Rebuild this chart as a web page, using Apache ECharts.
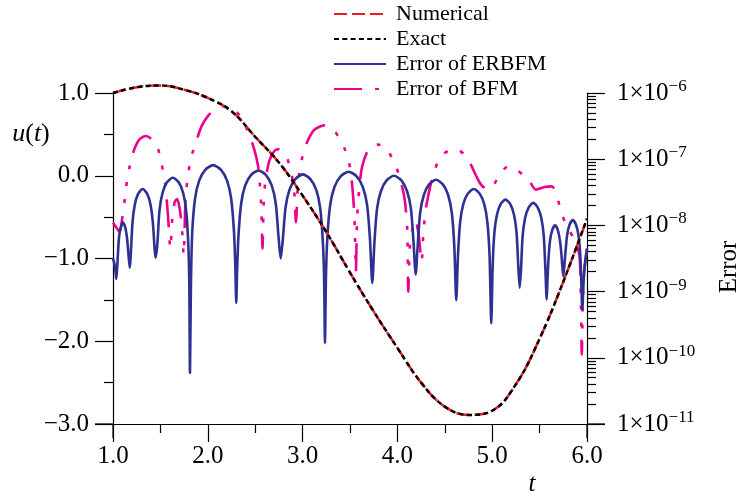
<!DOCTYPE html>
<html><head><meta charset="utf-8">
<script src="https://cdn.jsdelivr.net/npm/echarts@6/dist/echarts.min.js"></script>
<style>html,body{margin:0;padding:0;background:#fff}#c{width:739px;height:495px}</style>
</head><body><div id="c"></div>
<script>
// ---- data ----
const tU = [1.0,1.25,1.5,1.75,2.0,2.25,2.5,2.75,3.0,3.25,3.5,3.75,4.0,4.25,4.5,4.75,5.0,5.25,5.5,5.75,6.0];
const numericalU = [1.00,1.07,1.09,1.04,0.94,0.78,0.47,0.16,-0.24,-0.68,-1.17,-1.64,-2.08,-2.50,-2.79,-2.89,-2.84,-2.52,-1.97,-1.28,-0.52];
const exactU     = [1.00,1.07,1.09,1.04,0.94,0.78,0.47,0.16,-0.24,-0.68,-1.17,-1.64,-2.08,-2.50,-2.79,-2.89,-2.84,-2.52,-1.97,-1.28,-0.52];

const erbfmT = [1.000,1.020,1.035,1.051,1.063,1.082,1.105,1.129,1.148,1.161,1.176,1.206,1.231,1.266,1.313,1.360,1.395,1.420,1.450,1.468,1.490,1.522,1.569,1.631,1.693,1.740,1.772,1.794,1.805,1.812,1.822,1.836,1.866,1.910,1.973,2.056,2.139,2.202,2.246,2.276,2.290,2.300,2.309,2.323,2.352,2.394,2.455,2.535,2.614,2.675,2.717,2.746,2.769,2.792,2.820,2.862,2.923,3.003,3.082,3.143,3.185,3.213,3.227,3.236,3.246,3.261,3.291,3.336,3.401,3.486,3.570,3.635,3.680,3.710,3.735,3.758,3.785,3.827,3.886,3.964,4.042,4.101,4.143,4.170,4.193,4.214,4.240,4.279,4.334,4.407,4.480,4.535,4.574,4.600,4.621,4.639,4.662,4.695,4.743,4.806,4.868,4.916,4.949,4.972,4.990,5.005,5.023,5.050,5.089,5.140,5.191,5.230,5.257,5.275,5.290,5.304,5.321,5.347,5.384,5.433,5.481,5.518,5.544,5.561,5.575,5.584,5.594,5.610,5.633,5.663,5.692,5.715,5.731,5.750,5.772,5.790,5.816,5.850,5.884,5.910,5.928,5.940,5.950,5.970,6.000];
const erbfmErr = [3.2e-9,2.4e-9,1.55e-9,3.47e-9,6.46e-9,9.33e-9,1.10e-8,9.33e-9,6.46e-9,3.98e-9,2.29e-9,1.12e-8,2.09e-8,3.02e-8,3.55e-8,3.02e-8,2.09e-8,1.12e-8,3.24e-9,5.25e-9,1.66e-8,3.09e-8,4.47e-8,5.25e-8,4.47e-8,3.09e-8,1.66e-8,5.25e-9,1.26e-9,5.9e-11,1.26e-9,7.94e-9,2.57e-8,4.79e-8,6.92e-8,8.13e-8,6.92e-8,4.79e-8,2.57e-8,8.13e-9,2.51e-9,6.76e-10,2.0e-9,6.76e-9,2.14e-8,3.98e-8,5.75e-8,6.76e-8,5.75e-8,3.98e-8,2.14e-8,6.76e-9,3.16e-9,6.31e-9,1.86e-8,3.47e-8,5.01e-8,5.89e-8,5.01e-8,3.47e-8,1.86e-8,5.89e-9,1.58e-9,1.66e-10,1.58e-9,6.46e-9,2.04e-8,3.80e-8,5.50e-8,6.46e-8,5.50e-8,3.80e-8,2.04e-8,6.46e-9,1.35e-9,5.62e-9,1.78e-8,3.31e-8,4.79e-8,5.62e-8,4.79e-8,3.31e-8,1.78e-8,5.62e-9,1.82e-9,4.90e-9,1.55e-8,2.88e-8,4.17e-8,4.90e-8,4.17e-8,2.88e-8,1.55e-8,4.90e-9,7.41e-10,3.55e-9,1.12e-8,2.09e-8,3.02e-8,3.55e-8,3.02e-8,2.09e-8,1.12e-8,3.55e-9,3.31e-10,2.45e-9,7.76e-9,1.45e-8,2.09e-8,2.45e-8,2.09e-8,1.45e-8,7.76e-9,2.45e-9,1.15e-9,2.19e-9,6.92e-9,1.29e-8,1.86e-8,2.19e-8,1.86e-8,1.29e-8,6.92e-9,2.19e-9,7.59e-10,1.58e-9,3.16e-9,5.89e-9,8.51e-9,1.0e-8,8.51e-9,5.89e-9,3.55e-9,1.70e-9,3.80e-9,7.08e-9,1.02e-8,1.20e-8,1.02e-8,7.08e-9,3.80e-9,1.41e-9,5.37e-10,2.0e-9,4.47e-9];

const bfmT = [1.000,1.035,1.070,1.100,1.125,1.150,1.190,1.230,1.280,1.346,1.410,1.470,1.510,1.550,1.580,1.605,1.625,1.650,1.675,1.700,1.725,1.745,1.765,1.785,1.820,1.880,1.935,2.000,2.065,2.150,2.240,2.300,2.360,2.430,2.490,2.530,2.550,2.565,2.577,2.590,2.610,2.650,2.700,2.745,2.790,2.840,2.880,2.910,2.930,2.950,2.980,3.030,3.120,3.230,3.330,3.440,3.490,3.520,3.540,3.552,3.562,3.575,3.600,3.630,3.700,3.790,3.870,3.960,4.020,4.070,4.090,4.105,4.115,4.130,4.160,4.190,4.225,4.255,4.275,4.300,4.340,4.380,4.450,4.540,4.620,4.700,4.760,4.830,4.880,4.950,5.020,5.080,5.170,5.250,5.325,5.400,5.460,5.550,5.630,5.680,5.740,5.810,5.870,5.920,5.935,5.945,5.955,5.970,6.000];
const bfmErr = [1.10e-8,9.33e-9,7.94e-9,1.38e-8,2.51e-8,5.01e-8,9.55e-8,1.48e-7,2.0e-7,2.24e-7,2.0e-7,1.51e-7,8.91e-8,4.27e-8,1.41e-8,4.47e-9,1.26e-8,2.24e-8,2.51e-8,1.91e-8,1.0e-8,3.55e-9,2.51e-8,4.79e-8,1.0e-7,1.91e-7,3.16e-7,4.47e-7,5.50e-7,6.31e-7,6.03e-7,5.25e-7,4.07e-7,2.51e-7,1.41e-7,7.94e-8,3.98e-8,1.78e-8,4.47e-9,2.24e-8,5.01e-8,9.55e-8,1.32e-7,1.41e-7,1.32e-7,1.0e-7,6.31e-8,3.55e-8,1.12e-8,3.98e-8,8.32e-8,1.58e-7,2.75e-7,3.24e-7,2.75e-7,1.48e-7,8.91e-8,4.47e-8,1.95e-8,7.94e-9,2.0e-9,1.26e-8,3.98e-8,7.94e-8,1.45e-7,1.66e-7,1.55e-7,9.33e-8,5.62e-8,2.82e-8,1.66e-8,7.94e-9,1.0e-9,4.47e-9,8.91e-9,1.20e-8,7.08e-9,2.82e-9,7.94e-9,1.78e-8,3.55e-8,5.89e-8,1.07e-7,1.35e-7,1.41e-7,1.20e-7,9.12e-8,5.62e-8,4.17e-8,3.47e-8,4.17e-8,6.03e-8,7.76e-8,7.08e-8,5.75e-8,4.47e-8,3.47e-8,3.80e-8,3.89e-8,2.82e-8,1.41e-8,8.51e-9,6.03e-9,3.55e-9,7.94e-10,1.12e-10,6.31e-10,2.0e-9,4.47e-9];

const xTicks = [1, 2, 3, 4, 5, 6];
const uTicks = [-3, -2, -1, 0, 1];
const errTicks = [1e-11, 1e-10, 1e-9, 1e-8, 1e-7, 1e-6];
const errMinorTicks = [2e-11,3e-11,4e-11,5e-11,6e-11,7e-11,8e-11,9e-11,
  2e-10,3e-10,4e-10,5e-10,6e-10,7e-10,8e-10,9e-10,
  2e-9,3e-9,4e-9,5e-9,6e-9,7e-9,8e-9,9e-9,
  2e-8,3e-8,4e-8,5e-8,6e-8,7e-8,8e-8,9e-8,
  2e-7,3e-7,4e-7,5e-7,6e-7,7e-7,8e-7,9e-7];

// ---- chart ----
const serif = '"Liberation Serif", "Times New Roman", serif';
const fmtNum = v => (v < 0 ? '\u2212' : '') + Math.abs(v).toFixed(1);
const axisCol = '#000';
const lineW = 1.2;

const chart = echarts.init(document.getElementById('c'), null, {renderer: 'canvas'});
const G = {left: 113, right: 152, top: 93, bottom: 71};
const W = 739, H = 495;
const gx0 = G.left, gx1 = W - G.right, gy1 = H - G.bottom;

chart.setOption({
  animation: false,
  backgroundColor: '#fff',
  textStyle: {fontFamily: serif, color: '#000'},
  grid: G,
  legend: {
    orient: 'vertical', left: 333, top: 3, padding: 0,
    itemWidth: 52, itemHeight: 10, itemGap: 3,
    selectedMode: false,
    itemStyle: {opacity: 0},
    textStyle: {fontFamily: serif, fontSize: 22, color: '#000', padding: [0, 0, 0, 5]},
    data: ['Numerical', 'Exact', 'Error of ERBFM', 'Error of BFM']
  },
  xAxis: {
    type: 'value', min: 1, max: 6, interval: 1,
    axisLine: {show: true, onZero: false, lineStyle: {color: axisCol, width: lineW}},
    axisTick: {show: true, length: 18, customValues: xTicks, lineStyle: {color: axisCol, width: lineW}},
    minorTick: {show: true, splitNumber: 2, length: 9, lineStyle: {color: axisCol, width: lineW}},
    splitLine: {show: false}, minorSplitLine: {show: false},
    axisLabel: {customValues: xTicks, fontFamily: serif, fontSize: 25, color: '#000', margin: 20, formatter: fmtNum}
  },
  yAxis: [
    {
      type: 'value', min: -3, max: 1, interval: 1, position: 'left',
      axisLine: {show: true, onZero: false, lineStyle: {color: axisCol, width: lineW}},
      axisTick: {show: true, length: 18, customValues: uTicks, lineStyle: {color: axisCol, width: lineW}},
      minorTick: {show: true, splitNumber: 2, length: 9, lineStyle: {color: axisCol, width: lineW}},
      splitLine: {show: false}, minorSplitLine: {show: false},
      axisLabel: {customValues: uTicks, fontFamily: serif, fontSize: 25, color: '#000', margin: 24, formatter: fmtNum}
    },
    {
      type: 'log', logBase: 10, min: 1e-11, max: 1e-6, position: 'right',
      axisLine: {show: true, onZero: false, lineStyle: {color: axisCol, width: lineW}},
      axisTick: {show: true, length: 18, customValues: errTicks, lineStyle: {color: axisCol, width: lineW}},
      splitLine: {show: false},
      axisLabel: {
        customValues: errTicks, margin: 30, color: '#000',
        formatter: v => '{a|1\u00d710}{s|\u2212' + Math.round(-Math.log10(v)) + '}',
        rich: {
          a: {fontFamily: serif, fontSize: 25, lineHeight: 30, color: '#000'},
          s: {fontFamily: serif, fontSize: 17, lineHeight: 17, verticalAlign: 'top', color: '#000'}
        }
      }
    },
    {
      type: 'log', logBase: 10, min: 1e-11, max: 1e-6, position: 'right',
      axisLine: {show: false, onZero: false},
      axisTick: {show: true, length: 9, customValues: errMinorTicks, lineStyle: {color: axisCol, width: lineW}},
      axisLabel: {show: false}, splitLine: {show: false}
    }
  ],
  series: [
    {
      name: 'Numerical', type: 'line', xAxisIndex: 0, yAxisIndex: 0, z: 3, clip: false,
      data: tU.map((t, i) => [t, numericalU[i]]),
      smooth: 0.4, symbol: 'none', showSymbol: false,
      itemStyle: {color: '#ed1c24'},
      lineStyle: {color: '#ed1c24', width: 2.5, type: [13, 5]}
    },
    {
      name: 'Exact', type: 'line', xAxisIndex: 0, yAxisIndex: 0, z: 4, clip: false,
      data: tU.map((t, i) => [t, exactU[i]]),
      smooth: 0.4, symbol: 'none', showSymbol: false,
      itemStyle: {color: '#000'},
      lineStyle: {color: '#000', width: 2.5, type: [5, 3.3]}
    },
    {
      name: 'Error of ERBFM', type: 'line', xAxisIndex: 0, yAxisIndex: 1, z: 2,
      data: erbfmT.map((t, i) => [t, erbfmErr[i]]),
      smooth: 0.25, symbol: 'none', showSymbol: false,
      itemStyle: {color: '#2e3192'},
      lineStyle: {color: '#2e3192', width: 2.6}
    },
    {
      name: 'Error of BFM', type: 'line', xAxisIndex: 0, yAxisIndex: 1, z: 1,
      data: bfmT.map((t, i) => [t, bfmErr[i]]),
      smooth: 0.25, symbol: 'none', showSymbol: false,
      itemStyle: {color: '#ec008c'},
      lineStyle: {color: '#ec008c', width: 2.6, type: [28, 13, 4, 13, 4, 13, 4, 13]}
    }
  ],
  graphic: [
    // axis line extensions (decoration, from grid geometry)
    {type: 'line', silent: true, shape: {x1: gx0 - 18, y1: gy1, x2: gx0, y2: gy1}, style: {stroke: axisCol, lineWidth: lineW}},
    {type: 'line', silent: true, shape: {x1: gx1, y1: gy1, x2: gx1 + 18, y2: gy1}, style: {stroke: axisCol, lineWidth: lineW}},
    {type: 'line', silent: true, shape: {x1: gx0, y1: gy1, x2: gx0, y2: gy1 + 14}, style: {stroke: axisCol, lineWidth: lineW}},
    {type: 'line', silent: true, shape: {x1: gx1, y1: gy1, x2: gx1, y2: gy1 + 14}, style: {stroke: axisCol, lineWidth: lineW}},
    // axis names
    {type: 'text', x: 31, y: 134, silent: true, style: {
      text: '{i|u}{n|(}{i|t}{n|)}', align: 'center', verticalAlign: 'middle',
      rich: {i: {fontFamily: serif, fontStyle: 'italic', fontSize: 26, fill: '#000'}, n: {fontFamily: serif, fontSize: 26, fill: '#000'}}
    }},
    {type: 'text', x: 532, y: 484, silent: true, style: {text: 't', font: 'italic 25px "Liberation Serif"', fill: '#000', align: 'center', verticalAlign: 'middle'}},
    {type: 'text', x: 729, y: 267, rotation: Math.PI / 2, silent: true, style: {text: 'Error', font: '25px "Liberation Serif"', fill: '#000', align: 'center', verticalAlign: 'middle'}}
  ]
});
</script>
</body></html>
